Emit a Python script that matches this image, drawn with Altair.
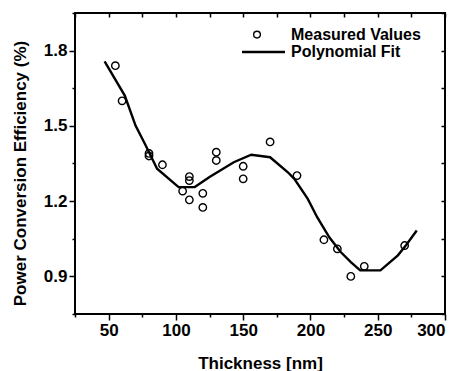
import altair as alt
import pandas as pd

# Measured values (thickness nm, PCE %)
thick_meas = [55, 60, 80, 80, 90, 105, 110, 110, 110, 120, 120, 130, 130,
              150, 150, 170, 190, 210, 220, 230, 240, 270]
pce_meas = [1.74, 1.60, 1.39, 1.38, 1.345, 1.24, 1.298, 1.282, 1.205, 1.231,
            1.175, 1.395, 1.362, 1.339, 1.289, 1.436, 1.302, 1.046, 1.01,
            0.90, 0.94, 1.023]

# Polynomial fit curve
thick_fit = [47, 62, 70, 77, 86, 102, 114, 125, 143, 156, 170, 183, 188,
             198, 205, 214, 222.5, 230, 237, 252, 265, 271, 279]
pce_fit = [1.757, 1.621, 1.501, 1.428, 1.329, 1.256, 1.256, 1.296, 1.355,
           1.385, 1.375, 1.316, 1.289, 1.209, 1.136, 1.056, 0.997, 0.957,
           0.924, 0.924, 0.984, 1.024, 1.083]

x_ticks = [25, 50, 75, 100, 125, 150, 175, 200, 225, 250, 275, 300]
y_ticks = [0.75, 0.9, 1.05, 1.2, 1.35, 1.5, 1.65, 1.8, 1.95]

FONT = "Liberation Sans"

meas = pd.DataFrame({"t": thick_meas, "p": pce_meas})
fit = pd.DataFrame({"t": thick_fit, "p": pce_fit})

xs = alt.Scale(domain=[25, 300], nice=False, zero=False)
ys = alt.Scale(domain=[0.75, 1.95], nice=False, zero=False)

x_major = "datum.value % 50 === 0"
y_major = "abs(round(datum.value*100) % 30) == 0"

x_axis = alt.Axis(
    orient="bottom", values=x_ticks, grid=False, domain=False,
    labelExpr=f"{x_major} ? datum.label : ''",
    tickSize={"condition": {"test": x_major, "value": 6}, "value": 3},
    tickWidth=1.5, tickColor="black",
    labelFont=FONT, labelFontSize=17, labelFontWeight="bold", labelColor="black",
    labelPadding=2,
    title="Thickness [nm]", titleFont=FONT, titleFontSize=17, titleFontWeight="bold",
    titleColor="black", titleX=185, titleY=49, titleBaseline="middle", titleAlign="center",
)
y_axis = alt.Axis(
    orient="left", values=y_ticks, grid=False, domain=False, format=".1f",
    labelExpr=f"{y_major} ? datum.label : ''",
    tickSize={"condition": {"test": y_major, "value": 6}, "value": 3},
    tickWidth=1.5, tickColor="black",
    labelFont=FONT, labelFontSize=17, labelFontWeight="bold", labelColor="black",
    labelPadding=2,
    title="Power Conversion Efficiency (%)", titleFont=FONT, titleFontSize=17,
    titleFontWeight="bold", titleColor="black", titleX=-55, titleY=160,
    titleAngle=270, titleBaseline="middle", titleAlign="center",
)
x_top = alt.Axis(orient="top", values=x_ticks, grid=False, domain=False, labels=False,
                 tickSize=4, offset=-4, tickWidth=1.5, tickColor="black", title=None)
y_right = alt.Axis(orient="right", values=y_ticks, grid=False, domain=False, labels=False,
                   tickSize=4, offset=-4, tickWidth=1.5, tickColor="black", title=None)

points = alt.Chart(meas).mark_point(
    shape="circle", filled=False, color="black", size=55, strokeWidth=1.4, opacity=1
).encode(
    x=alt.X("t:Q", scale=xs, axis=x_axis),
    y=alt.Y("p:Q", scale=ys, axis=y_axis),
)

line = alt.Chart(fit).mark_line(color="black", strokeWidth=2.4).encode(
    x=alt.X("t:Q", scale=xs, axis=x_top),
    y=alt.Y("p:Q", scale=ys, axis=y_right),
)

one = alt.Data(values=[{"a": 1}])
leg_pt = alt.Chart(one).mark_point(
    shape="circle", filled=False, color="black", size=45, strokeWidth=1.4, opacity=1
).encode(x=alt.value(182), y=alt.value(21.6))
leg_line = alt.Chart(one).mark_rule(color="black", strokeWidth=2.4).encode(
    x=alt.value(167), x2=alt.value(210), y=alt.value(39))
leg_t1 = alt.Chart(one).mark_text(
    align="left", baseline="middle", font=FONT, fontSize=16, fontWeight="bold", color="black"
).encode(x=alt.value(216), y=alt.value(21.6), text=alt.value("Measured Values"))
leg_t2 = alt.Chart(one).mark_text(
    align="left", baseline="middle", font=FONT, fontSize=16, fontWeight="bold", color="black"
).encode(x=alt.value(216), y=alt.value(39), text=alt.value("Polynomial Fit"))

chart = alt.layer(points, line, leg_pt, leg_line, leg_t1, leg_t2).resolve_axis(
    x="independent", y="independent"
).properties(
    width=370, height=301,
    autosize=alt.AutoSizeParams(type="none"),
    padding={"left": 75, "top": 13, "right": 16, "bottom": 57},
    background="white",
).configure_view(stroke="black", strokeWidth=2)

chart.save("out.html", embed_options={"renderer": "svg", "actions": False})
